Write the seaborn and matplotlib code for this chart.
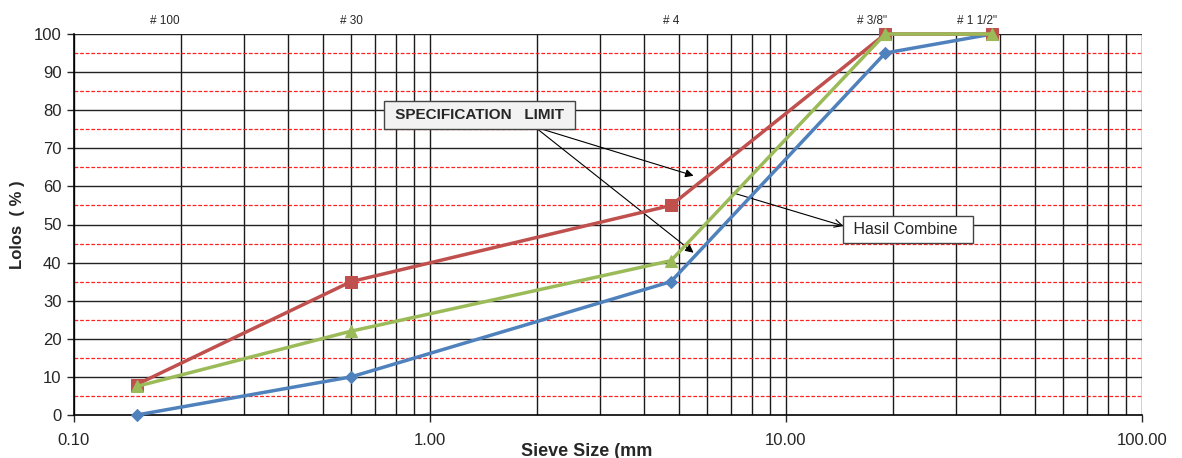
import numpy as np
import pandas as pd
import matplotlib
matplotlib.use("Agg")
import matplotlib.pyplot as plt
import seaborn as sns
from matplotlib.ticker import LogLocator, NullFormatter

sns.set_style("white")
plt.rcParams['font.family'] = ['Liberation Sans', 'DejaVu Sans']

sieve_mm = [0.15, 0.6, 4.75, 19.0, 38.0]
hasil_combine = [0, 10, 35, 95, 100]
spec_upper = [8, 35, 55, 100, 100]
spec_lower = [7.5, 22, 40.5, 100, 100]
series_names = ["Hasil Combine", "Spec Upper", "Spec Lower"]
top_labels = ["# 100", "# 30", "# 4", "# 3/8\"", "# 1 1/2\""]
top_label_x = [0.18, 0.6, 4.75, 17.5, 34.5]
x_ticks = [0.1, 1, 10, 100]
x_ticklabels = ["0.10", "1.00", "10.00", "100.00"]

df = pd.DataFrame({
    "x": sieve_mm * 3,
    "y": hasil_combine + spec_upper + spec_lower,
    "s": [series_names[0]] * 5 + [series_names[1]] * 5 + [series_names[2]] * 5,
})

palette = {"Hasil Combine": "#4F81BD", "Spec Upper": "#C0504D", "Spec Lower": "#9BBB59"}
markers = {"Hasil Combine": "D", "Spec Upper": "s", "Spec Lower": "^"}
sizes_m = {"Hasil Combine": 6, "Spec Upper": 8, "Spec Lower": 9}

fig = plt.figure(figsize=(11.82, 4.58), dpi=100)
ax = fig.add_axes([74/1182, 1-415/458, (1142-74)/1182, (415-34)/458])
ax.set_xscale("log")
ax.set_xlim(0.1, 100)
ax.set_ylim(0, 100)

# grid
ax.xaxis.set_minor_locator(LogLocator(base=10, subs=np.arange(2, 10)))
ax.xaxis.set_minor_formatter(NullFormatter())
ax.grid(True, which="both", axis="x", color="#1a1a1a", lw=1.0)
for yv in range(10, 101, 10):
    ax.axhline(yv, color="#222222", lw=1.0, zorder=1)
for yv in range(5, 100, 10):
    ax.axhline(yv, color="#FF2020", lw=0.9, ls=(0, (3, 1.5)), zorder=1)
ax.set_axisbelow(True)

for name in series_names:
    sub = df[df.s == name]
    sns.lineplot(data=sub, x="x", y="y", ax=ax, color=palette[name], lw=2.5,
                 marker=markers[name], markersize=sizes_m[name],
                 markeredgecolor=palette[name], legend=False, zorder=5, clip_on=False)

ax.set_xticks(x_ticks)
ax.set_xticklabels(x_ticklabels, fontsize=12)
ax.set_yticks(range(0, 101, 10))
ax.set_yticklabels([str(v) for v in range(0, 101, 10)], fontsize=12)
ax.tick_params(axis="x", which="major", length=5, width=1, direction="out", bottom=True, pad=8)
ax.tick_params(axis="x", which="minor", length=0)
ax.tick_params(axis="y", length=5, width=1, direction="out", left=True, pad=4)
ax.set_xlabel("")
ax.set_ylabel("Lolos  ( % )", fontsize=12, fontweight="bold", labelpad=6)

for sp in ["top", "right"]:
    ax.spines[sp].set_visible(False)
for sp in ["left", "bottom"]:
    ax.spines[sp].set_color("black")
    ax.spines[sp].set_linewidth(1.2)

for lx, lt in zip(top_label_x, top_labels):
    ax.text(lx, 101.8, lt, ha="center", va="bottom", fontsize=8.5)

fig.text(587/1182, 1-451/458, "Sieve Size (mm", ha="center", va="center",
         fontsize=13, fontweight="bold")

# annotations
ax.annotate("", xy=(5.5, 62.8), xytext=(1.97, 75.6),
            arrowprops=dict(arrowstyle="-|>", color="black", lw=0.8, mutation_scale=12,
                            shrinkA=0, shrinkB=0))
ax.annotate("", xy=(5.5, 42.6), xytext=(1.97, 75.6),
            arrowprops=dict(arrowstyle="-|>", color="black", lw=0.8, mutation_scale=12,
                            shrinkA=0, shrinkB=0))
ax.text(1.38, 78.7, " SPECIFICATION   LIMIT ", ha="center", va="center", fontsize=11,
        fontweight="bold", zorder=10,
        bbox=dict(boxstyle="square,pad=0.45", fc="#F2F2F2", ec="#444444", lw=1))
ax.annotate("", xy=(14.5, 49.6), xytext=(7.1, 58.3),
            arrowprops=dict(arrowstyle="->", color="black", lw=0.8, mutation_scale=14,
                            shrinkA=0, shrinkB=0))
ax.text(22.0, 48.7, " Hasil Combine  ", ha="center", va="center", fontsize=11.5, zorder=10,
        bbox=dict(boxstyle="square,pad=0.4", fc="white", ec="#444444", lw=1))

fig.savefig("out.png", dpi=100, facecolor="white")
